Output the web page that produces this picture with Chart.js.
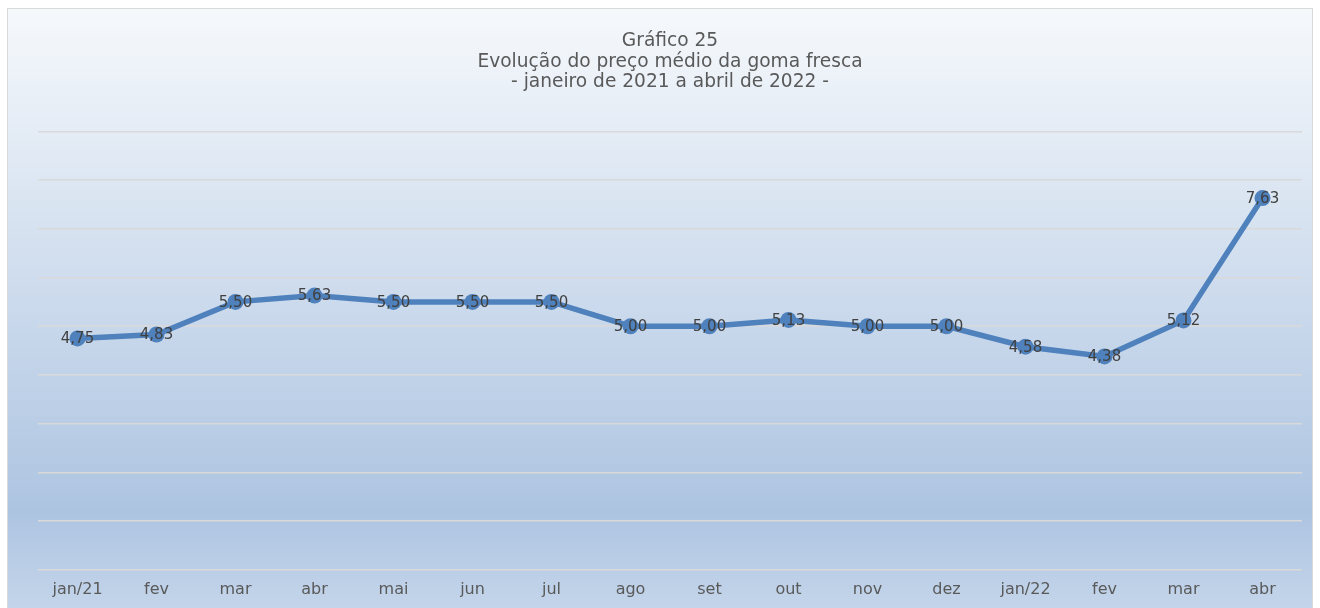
<!DOCTYPE html>
<html>
<head>
<meta charset="utf-8">
<script src="https://cdn.jsdelivr.net/npm/chart.js@4"></script>
<style>
  html, body { margin: 0; padding: 0; background: #fff; overflow: hidden; }
  #wrap { position: relative; width: 1320px; height: 608px; }
</style>
</head>
<body>
<div id="wrap"><canvas id="grafico"></canvas></div>
<script>
const meses = ["jan/21", "fev", "mar", "abr", "mai", "jun", "jul", "ago", "set", "out", "nov", "dez", "jan/22", "fev", "mar", "abr"];
const precos = [4.75, 4.83, 5.50, 5.63, 5.50, 5.50, 5.50, 5.00, 5.00, 5.13, 5.00, 5.00, 4.58, 4.38, 5.12, 7.63];
const titulo = ["Gráfico 25", "Evolução do preço médio da goma fresca", "- janeiro de 2021 a abril de 2022 -"];

const FONTE = "'DejaVu Sans', Verdana, sans-serif";

// fundo com degradê (estilo excel)
const fundo = {
  id: "fundo",
  beforeDraw(chart) {
    const { ctx, width, height } = chart;
    ctx.save();
    const g = ctx.createLinearGradient(0, 8, 0, height);
    g.addColorStop(0, "#f6f9fc");
    g.addColorStop(0.84, "#adc4e1");
    g.addColorStop(1, "#c4d5ea");
    ctx.fillStyle = g;
    ctx.fillRect(7, 8, width - 14, height - 8);
    ctx.strokeStyle = "#d9d9d9";
    ctx.lineWidth = 1;
    ctx.strokeRect(7.5, 8.5, width - 15, height - 8);
    ctx.restore();
  }
};

// rótulos de dados sobre os pontos
const rotulos = {
  id: "rotulos",
  afterDatasetsDraw(chart) {
    const { ctx } = chart;
    const meta = chart.getDatasetMeta(0);
    ctx.save();
    ctx.font = "15px " + FONTE;
    ctx.fillStyle = "#404040";
    ctx.textAlign = "center";
    ctx.textBaseline = "middle";
    meta.data.forEach((pt, i) => {
      const txt = precos[i].toFixed(2).replace(".", ",");
      ctx.fillText(txt, pt.x, pt.y + 1);
    });
    ctx.restore();
  }
};

new Chart(document.getElementById("grafico"), {
  type: "line",
  data: {
    labels: meses,
    datasets: [{
      data: precos,
      borderColor: "#4f81bd",
      backgroundColor: "#4f81bd",
      borderWidth: 5.5,
      pointRadius: 8,
      pointHoverRadius: 8,
      pointBorderWidth: 0,
      tension: 0
    }]
  },
  options: {
    responsive: true,
    maintainAspectRatio: false,
    animation: false,
    layout: { padding: { top: 18, left: 38, right: 18, bottom: -1 } },
    plugins: {
      legend: { display: false },
      tooltip: { enabled: false },
      title: {
        display: true,
        text: titulo,
        color: "#595959",
        font: { family: FONTE, size: 18.6, weight: "normal", lineHeight: 1.1 },
        padding: { top: 13, bottom: 39 }
      }
    },
    scales: {
      x: {
        offset: true,
        grid: { display: false, drawTicks: false },
        border: { display: false },
        ticks: { color: "#595959", font: { family: FONTE, size: 16 }, padding: 10, maxRotation: 0, autoSkip: false }
      },
      y: {
        min: 0,
        max: 9,
        ticks: { display: false, stepSize: 1 },
        grid: { color: "#d9d9d9", lineWidth: 1.5, drawTicks: false },
        border: { display: false }
      }
    }
  },
  plugins: [fundo, rotulos]
});
</script>
</body>
</html>
